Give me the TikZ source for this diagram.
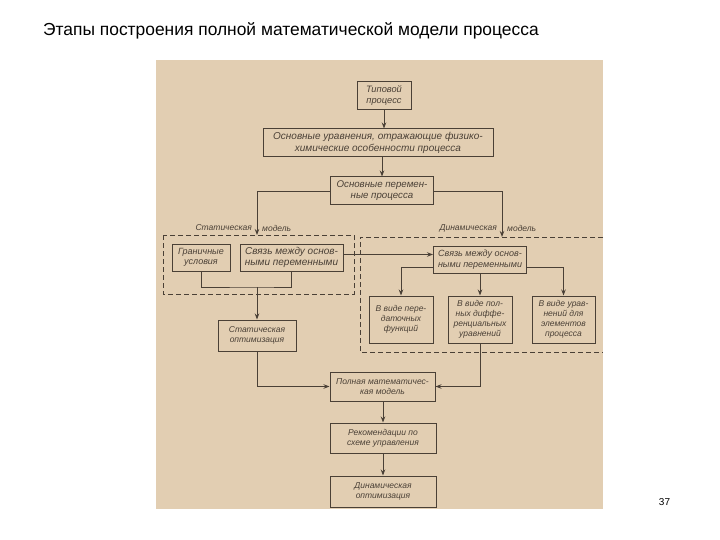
\documentclass[tikz,border=0pt]{standalone}
\usepackage{fontspec}
\setmainfont{Liberation Sans}
\usepackage{tikz}
\usetikzlibrary{arrows.meta}
\definecolor{scan}{RGB}{226,206,178}
\definecolor{ink}{RGB}{74,64,54}

\begin{document}
\begin{tikzpicture}[x=1pt, y=-1pt,
  box/.style 2 args={draw=ink, line width=1pt, text=ink, align=center, inner sep=1pt,
    minimum width=#1pt, minimum height=#2pt, font=\fontsize{8.5}{10}\selectfont\itshape},
  big/.style={font=\fontsize{10}{11.5}\selectfont\itshape},
  lab/.style={text=ink, font=\fontsize{8.5}{10}\selectfont\itshape, inner sep=0pt},
  wire/.style={draw=ink, line width=0.9pt},
  arr/.style={wire, -{Stealth[length=6pt, width=4.5pt]}},
  zone/.style={draw=ink, line width=0.9pt, dash pattern=on 5pt off 3pt}]
  \useasboundingbox (0,0) rectangle (720,540);
  \fill[white] (0,0) rectangle (720,540);
  \fill[scan] (156,60) rectangle (603,509);
  \node[anchor=west, inner sep=0pt, font=\fontsize{17.4}{20}\selectfont] (title) at (43,31) {Этапы построения полной математической модели процесса};
  \node[font=\fontsize{10}{12}\selectfont] (page) at (664.5,502) {37};

  % main column
  \node[box={54}{28}, font=\fontsize{9.3}{11}\selectfont\itshape] (tip) at (384,96) {Типовой\\процесс};
  \node[box={230}{28}, big] (ur) at (378,143) {Основные уравнения, отражающие физико-\\химические особенности процесса};
  \node[box={103}{28}, font=\fontsize{9.7}{11}\selectfont\itshape] (per) at (382,191) {Основные перемен-\\ные процесса};

  % static and dynamic zones
  \draw[zone] (163,235) rectangle (354,294);
  \draw[zone] (603,237) -- (360,237) -- (360,352) -- (603,352);
  \coordinate (stop) at (257,235); \coordinate (dtop) at (502,237);
  \node[lab, anchor=east] (slab) at (252,228) {Статическая}; \node[lab, anchor=west] (slab2) at (262,228) {модель};
  \node[lab, anchor=east] (dlab) at (497,228) {Динамическая}; \node[lab, anchor=west] (dlab2) at (507,228) {модель};

  \node[box={58}{27}, font=\fontsize{9}{10.5}\selectfont\itshape] (gran) at (201,257.5) {Граничные\\условия};
  \node[box={103}{27}, big] (svs) at (291.5,257.5) {Связь между основ-\\ными переменными};
  \node[box={93}{27}, font=\fontsize{9}{10.5}\selectfont\itshape] (svd) at (480,259.5) {Связь между основ-\\ными переменными};
  \node[box={64}{47}] (bA) at (401,319.5) {В виде пере-\\даточных\\функций};
  \node[box={64}{47}] (bB) at (480,319.5) {В виде пол-\\ных диффе-\\ренциальных\\уравнений};
  \node[box={63}{47}] (bC) at (563.5,319.5) {В виде урав-\\нений для\\элементов\\процесса};
  \node[box={78}{31}] (sopt) at (257,335.5) {Статическая\\оптимизация};

  % lower column
  \node[box={105}{29}] (full) at (382.5,386.5) {Полная математичес-\\кая модель};
  \node[box={106}{30}] (rek) at (383,438) {Рекомендации по\\схеме управления};
  \node[box={106}{31}] (dopt) at (383,491.5) {Динамическая\\оптимизация};

  \draw[arr] (tip.south) -- (tip.south |- ur.north);
  \draw[arr] (ur.south -| per) -- (per.north);
  \draw[arr] (per.west) -| (stop);
  \draw[arr] (per.east) -| (dtop);
  \coordinate (jn) at (257,287);
  \draw[wire] (gran.south) |- (jn) -| (svs.south);
  \draw[arr] (jn) -- (sopt.north);
  \draw[arr] ([yshift=3pt]svs.east) -- ([yshift=3pt]svs.east -| svd.west);
  \draw[arr] ([yshift=6pt]svd.south west) -| (bA.north);
  \draw[arr] (svd.south) -- (bB.north);
  \draw[arr] ([yshift=6pt]svd.south east) -| (bC.north);
  \draw[arr] (bB.south) |- (full.east);
  \draw[arr] (sopt.south) |- (full.west);
  \draw[arr] (full.south -| dopt) -- (dopt |- rek.north);
  \draw[arr] (rek.south -| dopt) -- (dopt.north);
\end{tikzpicture}
\end{document}
